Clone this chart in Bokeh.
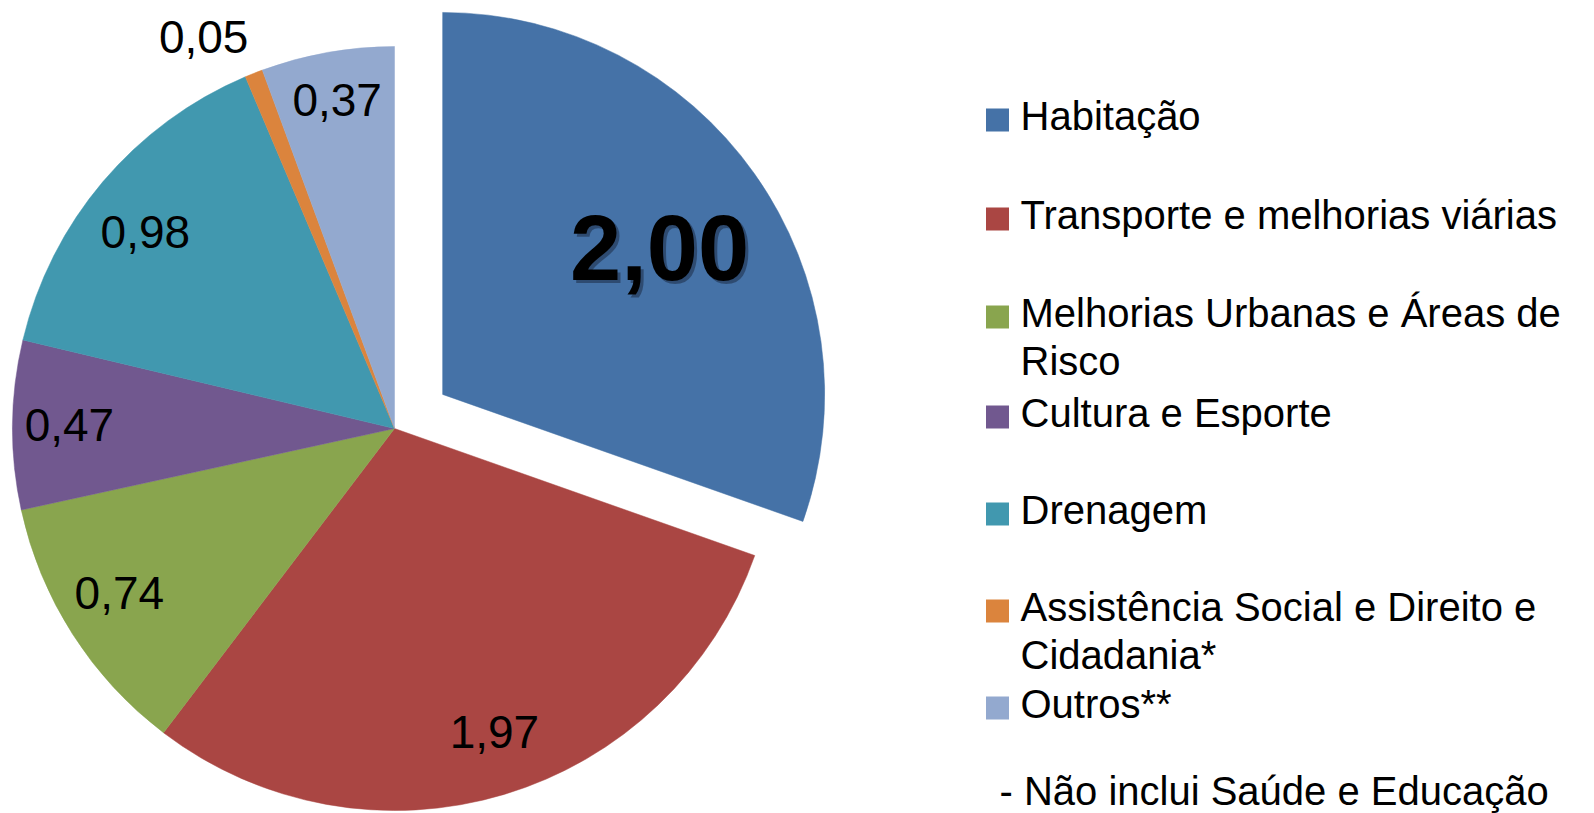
import math
from bokeh.plotting import figure
from bokeh.models import Range1d, ColumnDataSource
from bokeh.core.properties import value
from bokeh.embed import file_html
from bokeh.resources import INLINE

# ---------------- data ----------------
categories = ["Habitação", "Transporte e melhorias viárias",
              "Melhorias Urbanas e Áreas de Risco", "Cultura e Esporte",
              "Drenagem", "Assistência Social e Direito e Cidadania*", "Outros**"]
values = [2.00, 1.97, 0.74, 0.47, 0.98, 0.05, 0.37]
value_labels = ["2,00", "1,97", "0,74", "0,47", "0,98", "0,05", "0,37"]
legend_lines = [["Habitação"], ["Transporte e melhorias viárias"],
                ["Melhorias Urbanas e Áreas de", "Risco"], ["Cultura e Esporte"],
                ["Drenagem"], ["Assistência Social e Direito e", "Cidadania*"],
                ["Outros**"]]
note = "- Não inclui Saúde e Educação"
colors = ["#4572A7", "#AA4643", "#89A54E", "#71588F", "#4198AF", "#DB843D", "#93A9CF"]

# ---------------- layout (screen px) ----------------
W, H = 1594, 813
CX, CY, R = 394, 428, 382
explode = [59, 0, 0, 0, 0, 0, 0]
label_rf = [0.683, 0.838, 0.840, 0.851, 0.830, 1.139, 0.871]
label_dtheta = [1.55, -1.5, 1.6, 0.0, -2.0, -4.4, 0.2]
label_fs = [92, 46, 46, 46, 46, 46, 46]
leg_baselines = [130, 229, 327, 427, 524, 621, 718]
leg_line_gap = 48
LEG_SQ_X, LEG_TXT_X, LEG_SQ, LEG_FS = 997, 1020, 23, 40
NOTE_X, NOTE_Y = 999, 805
BASE_FIX = 0.37  # empirical shift (em) of the rendered alphabetic baseline


def fy(y):
    return H - y


total = sum(values)
cum = 0.0
wx, wy, ws, we, lx, ly = [], [], [], [], [], []
for i, v in enumerate(values):
    t0 = cum / total * 2 * math.pi
    t1 = (cum + v) / total * 2 * math.pi
    cum += v
    mid = (t0 + t1) / 2
    cx = CX + explode[i] * math.sin(mid)
    cy = CY - explode[i] * math.cos(mid)
    wx.append(cx)
    wy.append(fy(cy))
    ws.append(math.pi / 2 - t1)
    we.append(math.pi / 2 - t0)
    a = mid + math.radians(label_dtheta[i])
    r = label_rf[i] * R
    lx.append(cx + r * math.sin(a))
    ly.append(fy(cy - r * math.cos(a) + (0.358 - BASE_FIX) * label_fs[i]))

p = figure(width=W, height=H, x_range=Range1d(0, W), y_range=Range1d(0, H),
           output_backend="svg", toolbar_location=None, min_border=0,
           x_axis_location=None, y_axis_location=None)
p.grid.visible = False
p.outline_line_color = None
p.background_fill_color = "white"
p.border_fill_color = "white"

src = ColumnDataSource(dict(x=wx, y=wy, s=ws, e=we, color=colors, cat=categories))
p.wedge(x="x", y="y", radius=R, start_angle="s", end_angle="e",
        fill_color="color", line_color="color", line_width=0.5, source=src)

# value labels
big = ColumnDataSource(dict(x=[lx[0]], y=[ly[0]], t=[value_labels[0]]))
shadow = ColumnDataSource(dict(x=[lx[0] + 3], y=[ly[0] - 3], t=[value_labels[0]]))
p.text(x="x", y="y", text="t", source=shadow, text_font=value("Liberation Sans"),
       text_font_style="bold", text_font_size=f"{label_fs[0]}px", text_align="center",
       text_baseline="alphabetic", text_color="#1b2b45", text_alpha=0.55)
p.text(x="x", y="y", text="t", source=big, text_font=value("Liberation Sans"),
       text_font_style="bold", text_font_size=f"{label_fs[0]}px", text_align="center",
       text_baseline="alphabetic", text_color="black")
small = ColumnDataSource(dict(x=lx[1:], y=ly[1:], t=value_labels[1:]))
p.text(x="x", y="y", text="t", source=small, text_font=value("Liberation Sans"),
       text_font_size="46px", text_align="center", text_baseline="alphabetic",
       text_color="black")

# legend
sqx, sqy, sqc, tx, ty, tt = [], [], [], [], [], []
for i, lines in enumerate(legend_lines):
    b = leg_baselines[i]
    sqx.append(LEG_SQ_X)
    sqy.append(fy(b - 10.5))
    sqc.append(colors[i])
    for j, line in enumerate(lines):
        tx.append(LEG_TXT_X)
        ty.append(fy(b + j * leg_line_gap - BASE_FIX * LEG_FS))
        tt.append(line)
tx.append(NOTE_X)
ty.append(fy(NOTE_Y - BASE_FIX * LEG_FS))
tt.append(note)
p.rect(x=sqx, y=sqy, width=LEG_SQ, height=LEG_SQ, fill_color=sqc, line_color=None)
p.text(x=tx, y=ty, text=tt, text_font=value("Liberation Sans"), text_font_size=f"{LEG_FS}px",
       text_align="left", text_baseline="alphabetic", text_color="black")

open("out.html", "w").write(file_html(p, INLINE))
